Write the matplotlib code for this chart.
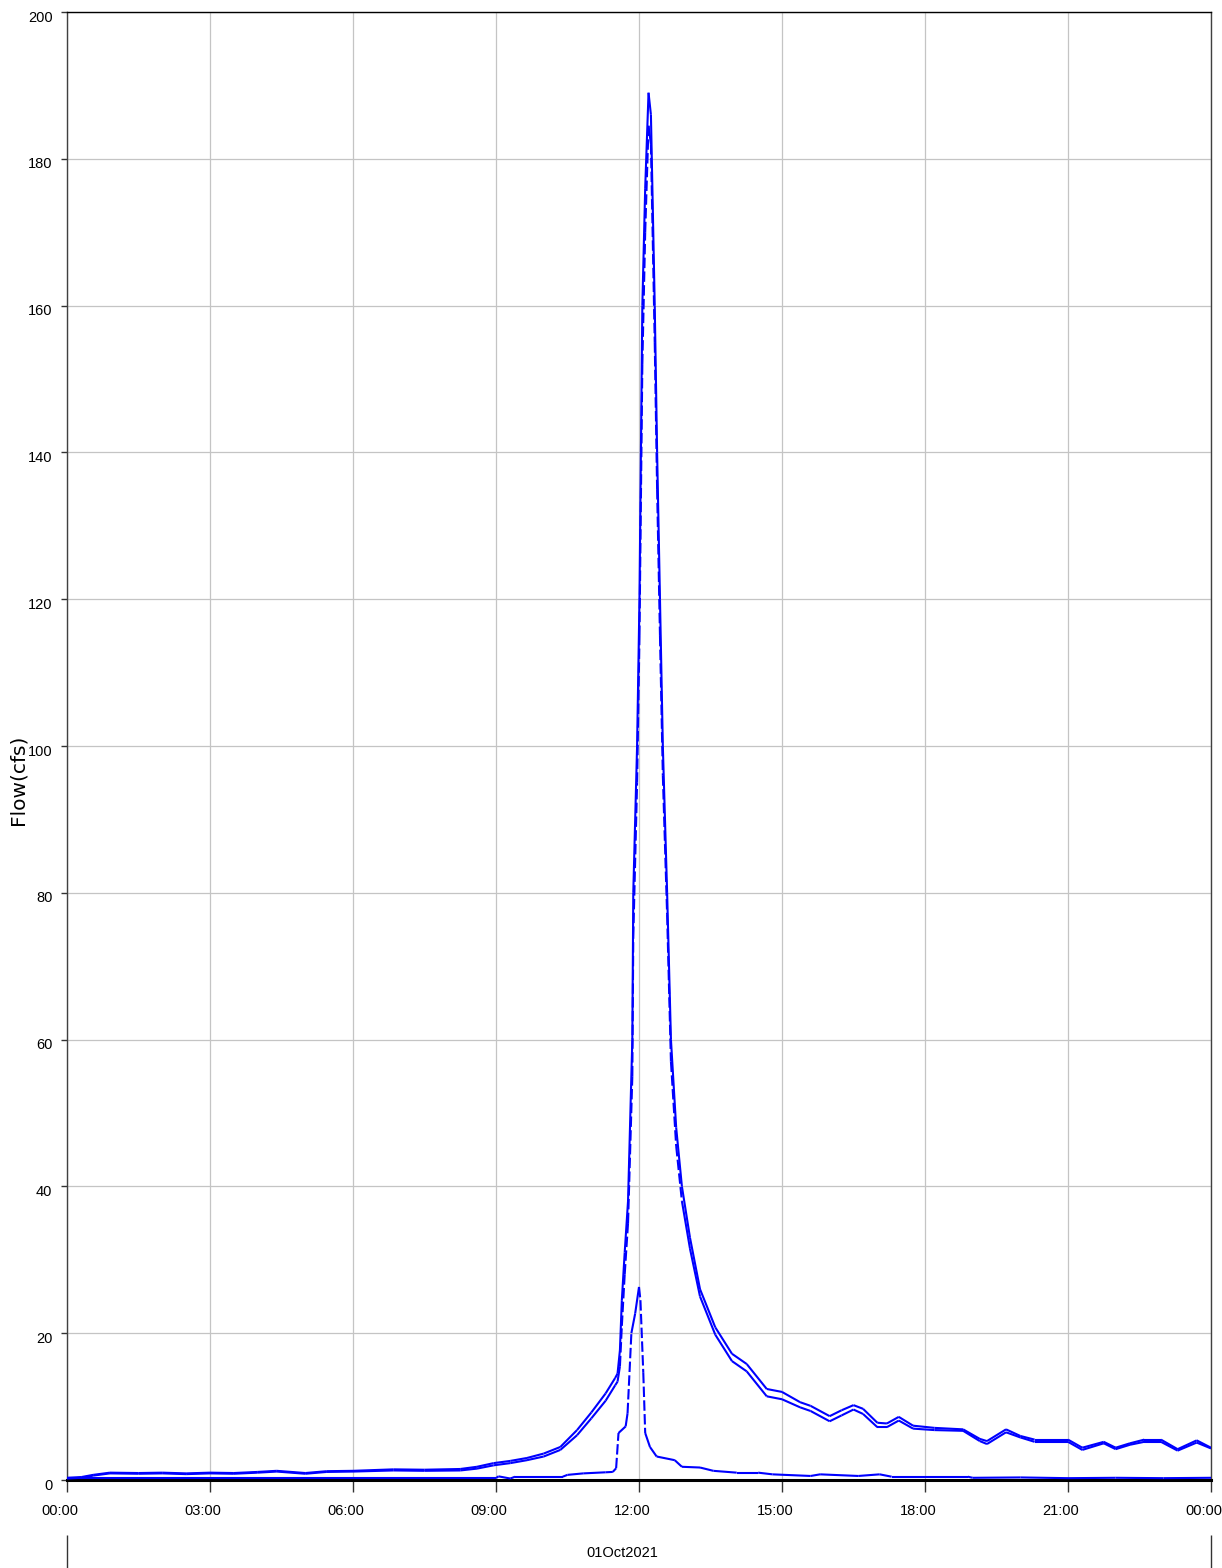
import numpy as np
import matplotlib
matplotlib.use("Agg")
import matplotlib.pyplot as plt
import matplotlib.transforms as mtransforms
from matplotlib.collections import LineCollection

# hours after midnight, 01Oct2021
hours = [0.0, 0.3, 0.55, 0.9, 1.5, 2.0, 2.5, 3.0, 3.5, 4.0, 4.4, 5.0, 5.45, 6.0, 6.85,
         7.5, 8.25, 8.6, 8.95, 9.3, 9.65, 10.0, 10.35, 10.7, 11.0, 11.3, 11.5, 11.55,
         11.6, 11.64, 11.7, 11.77, 11.86, 11.88, 11.96, 12.01, 12.07, 12.13, 12.2, 12.25,
         12.33, 12.38, 12.44, 12.5, 12.59, 12.67, 12.78, 12.9, 13.07, 13.28,
         13.6, 13.95, 14.26, 14.68, 15.0, 15.38,
         15.6, 16.0, 16.25, 16.5, 16.7, 17.0, 17.2, 17.45, 17.75, 18.2, 18.8, 19.15, 19.3,
         19.7, 20.0, 20.3, 21.0, 21.3, 21.75, 22.0, 22.3, 22.6, 22.95, 23.3, 23.7, 24.0]

flow_a = [0.3, 0.4, 0.7, 1.0, 0.95, 1.0, 0.9, 1.0, 0.95, 1.1, 1.25, 0.95, 1.2, 1.25, 1.45,
          1.4, 1.5, 1.8, 2.3, 2.6, 3.0, 3.6, 4.5, 6.8, 9.2, 11.8, 13.9, 14.5,
          17.7, 24.5, 31, 38, 60, 80, 100, 120, 160, 176, 189, 186,
          160, 140, 120, 100, 80, 60, 48, 40, 33, 26,
          20.8, 17.2, 15.8, 12.4, 12.0, 10.6,
          10.1, 8.7, 9.5, 10.2, 9.7, 7.8, 7.7, 8.6, 7.4, 7.1, 6.9, 5.6, 5.3,
          6.9, 6.0, 5.5, 5.5, 4.4, 5.2, 4.4, 5.0, 5.5, 5.5, 4.2, 5.4, 4.4]

flow_b = [0.2, 0.3, 0.6, 0.9, 0.85, 0.9, 0.8, 0.9, 0.85, 1.0, 1.15, 0.85, 1.1, 1.15, 1.3,
          1.25, 1.3, 1.55, 2.0, 2.3, 2.7, 3.2, 4.1, 6.1, 8.4, 10.8, 12.9, 13.4,
          15.5, 21, 28, 35, 55, 74, 95, 115, 152, 170, 184.5, 182,
          155, 135, 115, 96, 77, 57, 45.5, 38, 31.5, 25,
          19.8, 16.2, 14.8, 11.4, 11.0, 9.9,
          9.4, 8.0, 8.8, 9.6, 9.0, 7.2, 7.2, 8.1, 7.0, 6.8, 6.7, 5.3, 4.9,
          6.5, 5.8, 5.2, 5.2, 4.1, 5.0, 4.2, 4.8, 5.2, 5.2, 4.0, 5.1, 4.3]

hours_c = [0.0, 9.0, 9.05, 9.3, 9.4, 10.4, 10.5, 10.83, 11.3, 11.45, 11.52, 11.57, 11.72,
           11.76, 11.84, 11.92, 12.0, 12.03, 12.09, 12.13, 12.23, 12.37, 12.75, 12.9,
           13.28, 13.56, 14.05, 14.5, 14.8, 15.6, 15.8, 16.6, 17.05, 17.3, 18.9, 19.0,
           20.0, 21.0, 22.0, 23.0, 24.0]
flow_c = [0.25, 0.25, 0.5, 0.2, 0.45, 0.45, 0.7, 0.9, 1.05, 1.1, 1.6, 6.4, 7.3,
          9.1, 20, 22.7, 26.3, 24.5, 14.6, 6.4, 4.5, 3.2, 2.7, 1.8,
          1.7, 1.25, 1.0, 1.0, 0.77, 0.55, 0.77, 0.55, 0.77, 0.45, 0.45, 0.3,
          0.35, 0.25, 0.3, 0.25, 0.3]

tick_hours = [0, 3, 6, 9, 12, 15, 18, 21, 24]
tick_labels = ["00:00", "03:00", "06:00", "09:00", "12:00", "15:00", "18:00", "21:00", "00:00"]
flow_ticks = list(range(0, 201, 20))
date_label = "01Oct2021"

label_font = ["Liberation Sans", "DejaVu Sans"]


def add_series(ax, t, v, dash_steep):
    # each segment drawn on its own, steep ones dashed like the HEC plot
    t = np.asarray(t, float)
    v = np.asarray(v, float)
    segs = [[(t[i], v[i]), (t[i + 1], v[i + 1])] for i in range(len(t) - 1)]
    styles = []
    for i in range(len(t) - 1):
        slope = abs(v[i + 1] - v[i]) / (t[i + 1] - t[i])
        styles.append((0, (5, 1.6)) if dash_steep and slope > 60 else "solid")
    lc = LineCollection(segs, colors="#0000ff", linewidths=1.5, linestyles=styles,
                        capstyle="butt", zorder=3)
    ax.add_collection(lc)


fig = plt.figure(figsize=(12.22, 15.68), dpi=100)
ax = fig.add_axes([67 / 1222, 1 - 1480 / 1568, 1144 / 1222, 1468 / 1568])

add_series(ax, hours, flow_a, False)
add_series(ax, hours, flow_b, True)
add_series(ax, hours_c, flow_c, True)

ax.set_xlim(0, 24)
ax.set_ylim(0, 200)
ax.set_xticks(tick_hours)
ax.set_xticklabels(tick_labels, family=label_font, fontsize=10.5)
ax.set_yticks(flow_ticks)
ax.set_yticklabels([str(v) for v in flow_ticks], family=label_font, fontsize=10.5)
ax.tick_params(axis="x", length=8.5, width=1, color="#333333", pad=9)
ax.tick_params(axis="y", length=4.5, width=1, color="#333333", pad=6)
ax.grid(True, color="#c4c4c4", linewidth=0.9)
ax.set_axisbelow(True)

# labels sit a little left of / below their ticks in the original
shift_x = mtransforms.ScaledTranslation(-7 / 100, 0, fig.dpi_scale_trans)
for lab in ax.get_xticklabels():
    lab.set_transform(lab.get_transform() + shift_x)
shift_y = mtransforms.ScaledTranslation(0, -4 / 100, fig.dpi_scale_trans)
for lab in ax.get_yticklabels():
    lab.set_transform(lab.get_transform() + shift_y)

for side in ["left", "right"]:
    ax.spines[side].set_color("#404040")
    ax.spines[side].set_linewidth(1)
ax.spines["top"].set_color("black")
ax.spines["top"].set_linewidth(1)
ax.spines["bottom"].set_color("black")
ax.spines["bottom"].set_linewidth(2.2)
ax.spines["bottom"].set_zorder(2.5)

# day axis under the time axis
sec = ax.secondary_xaxis(-0.0375)
sec.set_xticks([0, 24])
sec.set_xticklabels(["", ""])
sec.tick_params(length=24, width=1, color="#333333")
sec.spines["bottom"].set_visible(False)
ax.text(11.65, -0.05, date_label, transform=ax.get_xaxis_transform(),
        ha="center", va="center", family=label_font, fontsize=10.5)

fig.text(18 / 1222, 1 - 780 / 1568, "Flow(cfs)", rotation=90, ha="center", va="center",
         fontsize=14.5, family="DejaVu Sans")

fig.savefig("out.png", dpi=100)
